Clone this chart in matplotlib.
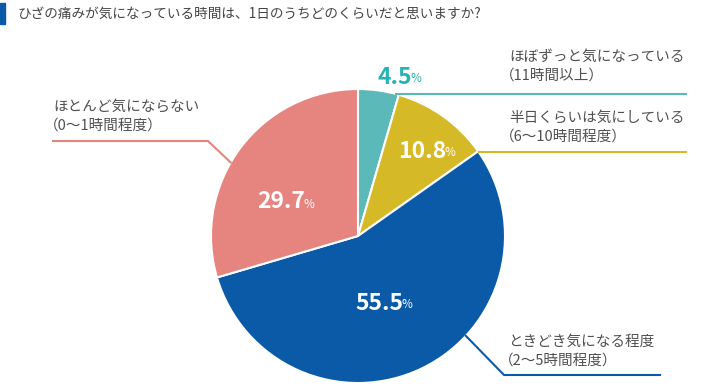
import numpy as np
import matplotlib
matplotlib.use("Agg")
import matplotlib.pyplot as plt
from matplotlib.patches import Rectangle

plt.rcParams['font.family'] = ['Noto Sans CJK JP', 'DejaVu Sans']

# data
title = "ひざの痛みが気になっている時間は、1日のうちどのくらいだと思いますか?"
shares = [4.5, 10.8, 55.5, 29.7]
share_labels = ["4.5", "10.8", "55.5", "29.7"]
names = ["ほぼずっと気になっている", "半日くらいは気にしている",
         "ときどき気になる程度", "ほとんど気にならない"]
hours = ["（11時間以上）", "（6〜10時間程度）", "（2〜5時間程度）", "（0〜1時間程度）"]
colors = ["#5bb9b9", "#d6b927", "#0a5aa8", "#e6847f"]

W, H = 720, 387
fig = plt.figure(figsize=(7.2, 3.87), dpi=100)
ax = fig.add_axes([0, 0, 1, 1])

cx, cy, R = 358, H - 236, 147
ax.pie(shares, colors=colors, startangle=90, counterclock=False,
       center=(cx, cy), radius=R, normalize=True,
       wedgeprops=dict(edgecolor="white", linewidth=1.5))
ax.set_xlim(0, W)
ax.set_ylim(0, H)
ax.set_aspect("equal")
ax.axis("off")

# title with blue marker
ax.add_patch(Rectangle((0, H - 24), 5, 21, color="#0a5aa8", clip_on=False))
ax.text(17, H - 14, title, fontsize=9.8, color="#444444", va="center", ha="left")

# percentage labels (number right edge, center y) in pixel coords
pct_pos = [(412, 77), (446, 151), (403, 303), (305, 202)]
pct_cols = ["#27b3b3", "white", "white", "white"]
for lab, (px, py), c in zip(share_labels, pct_pos, pct_cols):
    ax.text(px, H - py, lab, fontsize=16.5, fontweight="bold", color=c,
            ha="right", va="center")
    ax.text(px - 1.5, H - py - 2, "%", fontsize=8.5, color=c,
            ha="left", va="center")

def circle_x(y, side):
    dy = cy - (H - y)
    return cx + side * np.sqrt(R**2 - dy**2)

lc = colors
# teal & yellow: horizontal from circle edge
for i, y in [(0, 94), (1, 152)]:
    ax.plot([circle_x(y, 1), 686], [H - y, H - y], color=lc[i], lw=1.5)
# blue
a = np.deg2rad(-42.8)
sx, sy = cx + R * np.cos(a), cy + R * np.sin(a)
ax.plot([sx, 504, 660], [sy, H - 375, H - 375], color=lc[2], lw=1.5)
# pink
a = np.deg2rad(150)
sx, sy = cx + R * np.cos(a), cy + R * np.sin(a)
ax.plot([sx, 208, 53], [sy, H - 141, H - 141], color=lc[3], lw=1.5)

# category texts
txt_pos = [(509, 57), (509, 118), (508, 342), (53, 107)]
for n, h, (tx, ty) in zip(names, hours, txt_pos):
    ax.text(tx, H - ty, n, fontsize=10.5, color="#505050", ha="left", va="center")
    ax.text(tx - 9, H - ty - 19, h, fontsize=10.5, color="#505050", ha="left", va="center")

fig.savefig("out.png", dpi=100)
